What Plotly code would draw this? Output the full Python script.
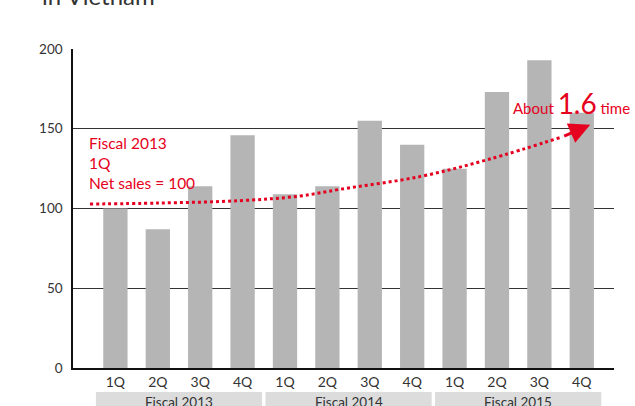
import plotly.graph_objects as go

quarters = ["1Q", "2Q", "3Q", "4Q"] * 3
years = ["Fiscal 2013", "Fiscal 2014", "Fiscal 2015"]
net_sales_index = [100, 87, 114, 146, 109, 114, 155, 140, 125, 173, 193, 160]

# hand-drawn trend arrow from the original chart
trend_x = [-0.6, 1.0, 2.94, 4.35, 5.29, 7.18, 8.83, 10.55]
trend_y = [102.8, 103.4, 104.9, 107.8, 112, 120, 131, 145]
arrow_tip = (11.2, 152.5)

red = "#e60020"
grey_txt = "#333333"
font = "Lato"

x_pos = list(range(len(net_sales_index)))

fig = go.Figure()
fig.add_trace(go.Bar(x=x_pos, y=net_sales_index, width=0.573,
                     marker=dict(color="#b4b5b4", line=dict(width=0))))
fig.add_trace(go.Scatter(x=trend_x, y=trend_y, mode="lines",
                         line=dict(color=red, width=3, dash="dot", shape="spline"),
                         hoverinfo="skip"))

# arrow head
fig.add_annotation(x=arrow_tip[0], y=arrow_tip[1], ax=trend_x[-1], ay=trend_y[-1],
                   axref="x", ayref="y", xref="x", yref="y", text="",
                   showarrow=True, arrowhead=2, arrowsize=1.4, arrowwidth=3,
                   arrowcolor=red)

fig.add_annotation(x=-0.67, y=148, xref="x", yref="y", xanchor="left", yanchor="top",
                   align="left", showarrow=False,
                   text="Fiscal 2013<br>1Q<br>Net sales = 100",
                   font=dict(family=font, size=15.5, color=red))
fig.add_annotation(x=9.33, y=154.5, xref="x", yref="y", xanchor="left", yanchor="bottom",
                   showarrow=False,
                   text="About <span style='font-size:28px'>1.6</span> time",
                   font=dict(family=font, size=15, color=red))

# title (cut off at top of the image)
fig.add_annotation(x=-0.061, y=1.117, xref="paper", yref="paper", xanchor="left",
                   yanchor="bottom", showarrow=False, text="in Vietnam",
                   font=dict(family=font, size=24, color=grey_txt))

# fiscal year bands
for i, yr in enumerate(years):
    fig.add_shape(type="rect", xref="x", yref="paper",
                  x0=4 * i - 0.46, x1=4 * i + 3.46, y0=-0.075, y1=-0.2,
                  fillcolor="#dcdcdc", line=dict(width=0), layer="below")
    fig.add_annotation(x=4 * i + 1.5, y=-0.076, xref="x", yref="paper",
                       xanchor="center", yanchor="top", showarrow=False, text=yr,
                       font=dict(family=font, size=13.5, color=grey_txt))

fig.update_xaxes(range=[-1.0, 11.76], tickvals=x_pos, ticktext=quarters,
                 showgrid=False, showline=True, linecolor="#111111", linewidth=2,
                 ticks="", tickfont=dict(family=font, size=14, color=grey_txt),
                 zeroline=False, fixedrange=True)
fig.update_yaxes(range=[0, 200], tickvals=[0, 50, 100, 150, 200],
                 showgrid=True, gridcolor="#333333", gridwidth=1.3,
                 showline=True, linecolor="#111111", linewidth=1.5,
                 ticks="", ticklabelstandoff=6,
                 tickfont=dict(family=font, size=13.5, color=grey_txt),
                 zeroline=False, fixedrange=True)

fig.update_layout(width=635, height=406, showlegend=False,
                  margin=dict(l=73, r=21, t=49, b=38),
                  plot_bgcolor="white", paper_bgcolor="white",
                  bargap=0.4)

fig.write_html("out.html", config={"displayModeBar": False},
               post_script="document.body.style.margin='0';document.body.style.overflow='hidden';")
